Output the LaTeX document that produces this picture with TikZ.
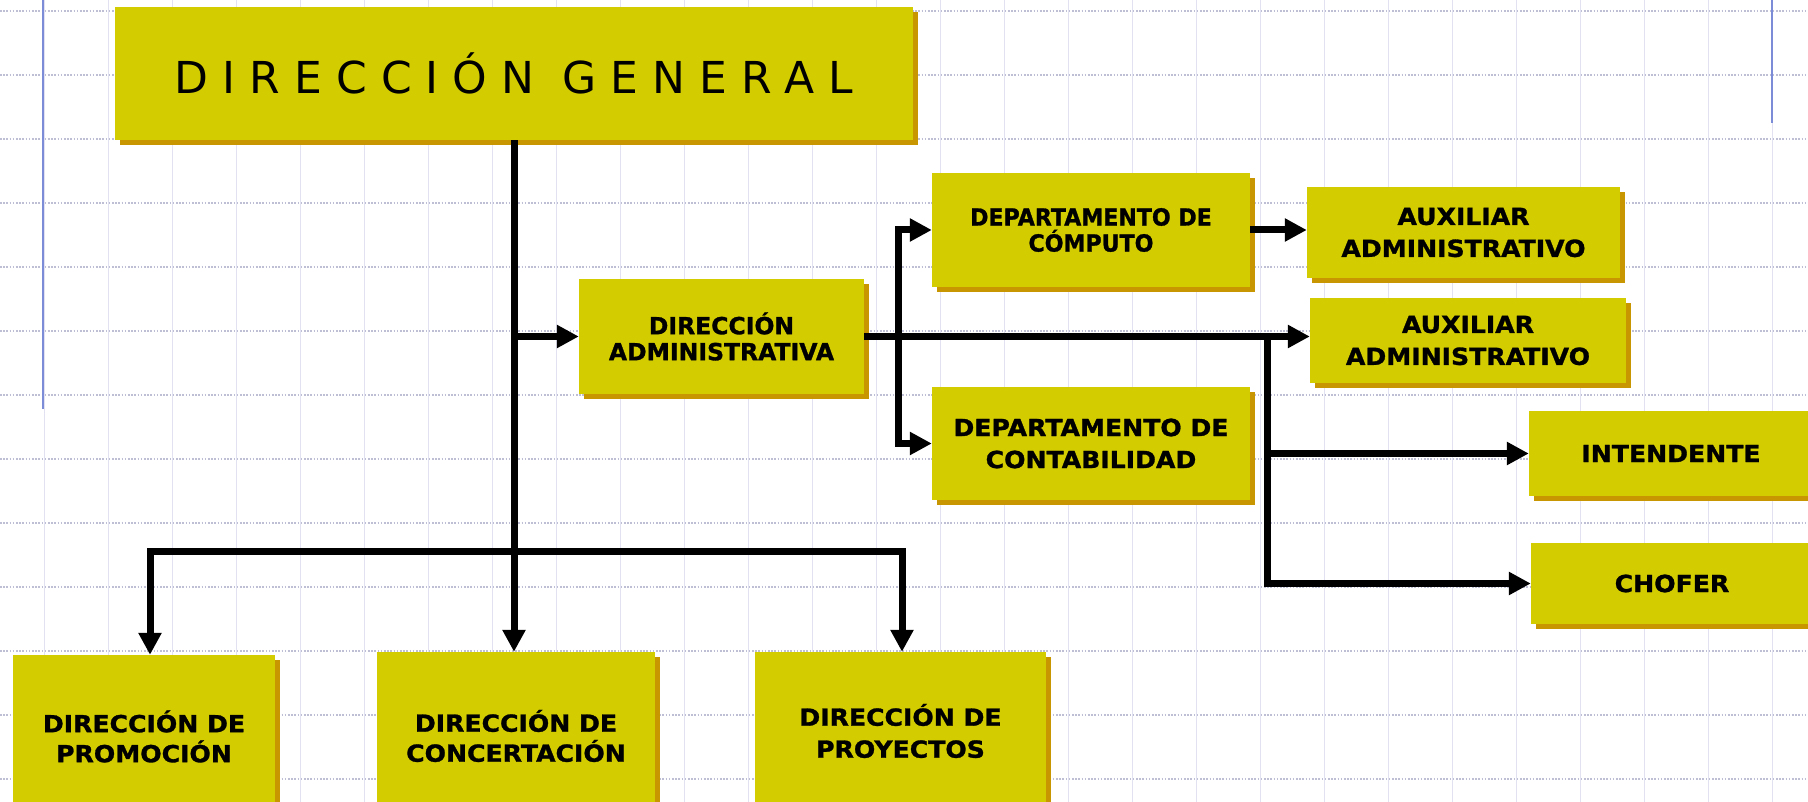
\documentclass[tikz,border=0pt]{standalone}
\usepackage{fontspec}
\usetikzlibrary{arrows.meta,shadows}
\newfontfamily\dgfont[LetterSpace=32]{DejaVu Sans}
\newfontfamily\lblfont[FakeStretch=1.07,FakeBold=1.2]{DejaVu Sans Bold}
\newfontfamily\lblfontc[FakeStretch=0.94,FakeBold=1.2]{DejaVu Sans Bold}
\newfontfamily\lblfontd[FakeBold=1.2]{DejaVu Sans Bold}
\definecolor{boxy}{RGB}{211,204,0}
\definecolor{shadowy}{RGB}{200,150,0}
\definecolor{hgridc}{RGB}{190,190,212}
\definecolor{vgridc}{RGB}{225,225,242}
\definecolor{bluel}{RGB}{125,140,215}
\begin{document}
\begin{tikzpicture}[x=1pt,y=-1pt,
  box/.style={rectangle, fill=boxy, inner sep=0pt, align=center,
    drop shadow={shadow xshift=5pt, shadow yshift=-5pt, fill=shadowy, opacity=1}},
  lbl/.style={font={\lblfont\fontsize{23.5}{#1}\selectfont}},
  lblc/.style={font={\lblfontc\fontsize{23.5}{#1}\selectfont}},
  lbld/.style={font={\lblfontd\fontsize{23.5}{#1}\selectfont}},
  conn/.style={line width=7pt, -{Triangle[length=22pt,width=22pt]}},
  conntwo/.style={line width=7pt, {Triangle[length=22pt,width=22pt]}-{Triangle[length=22pt,width=22pt]}},
  hgrid/.style={draw=hgridc, line width=1.4pt, dash pattern=on 1.6pt off 1.6pt},
  vgrid/.style={draw=vgridc, line width=1pt},
  blueline/.style={draw=bluel, line width=2pt}]
\useasboundingbox (0,0) rectangle (1808,802);
\clip (0,0) rectangle (1808,802);
\fill[white] (0,0) rectangle (1808,802);
% background grid
\foreach \x in {44,108,...,1772} \draw[vgrid] (\x,0) -- (\x,802);
\foreach \y in {11,75,...,779} \draw[hgrid] (0,\y) -- (1808,\y);
\draw[blueline] (43,0) -- (43,409);
\draw[blueline] (1772,0) -- (1772,123);
% boxes
\node[box, minimum width=798pt, minimum height=133pt,
  font={\dgfont\fontsize{44}{50}\selectfont}] (dg) at (514,73.5)
  {\raisebox{-4pt}{DIRECCIÓN GENERAL}};
\node[box, lbld=26, minimum width=285pt, minimum height=115pt] (da) at (721.5,336.5)
  {DIRECCIÓN\\ADMINISTRATIVA};
\node[box, lblc=26, minimum width=318pt, minimum height=114pt] (dc) at (1091,230)
  {DEPARTAMENTO DE\\CÓMPUTO};
\node[box, lbl=32, minimum width=313pt, minimum height=91pt] (aux1) at (1463.5,232.5)
  {AUXILIAR\\ADMINISTRATIVO};
\node[box, lbl=32, minimum width=316pt, minimum height=85pt] (aux2) at (1468,340.5)
  {AUXILIAR\\ADMINISTRATIVO};
\node[box, lbl=32, minimum width=318pt, minimum height=113pt] (dcont) at (1091,443.5)
  {DEPARTAMENTO DE\\CONTABILIDAD};
\node[box, lbl=32, minimum width=284pt, minimum height=85pt] (int) at (1671,453.5)
  {INTENDENTE};
\node[box, lbl=32, minimum width=282pt, minimum height=81pt] (chof) at (1672,583.5)
  {CHOFER};
\node[box, lbl=30, minimum width=262pt, minimum height=163pt] (prom) at (144,736.5)
  {DIRECCIÓN DE\\PROMOCIÓN};
\node[box, lbl=30, minimum width=278pt, minimum height=168pt] (conc) at (516,736)
  {DIRECCIÓN DE\\CONCERTACIÓN};
\node[box, lbl=32, minimum width=291pt, minimum height=158pt] (proy) at (900.5,731)
  {DIRECCIÓN DE\\PROYECTOS};
% connectors
\coordinate (v1) at (898,0);
\coordinate (v2) at (1267,0);
\coordinate (pa) at (150,551);
\coordinate (pb) at (902,551);
\draw[conn] (dg.south) -- (dg.south |- conc.north);
\draw[conntwo] (pa |- prom.north) -- (pa) -- (pb) -- (pb |- proy.north);
\draw[conn] (dg.south |- da.west) -- (da.west);
\draw[conn] (da.east) -- (da.east -| aux2.west);
\draw[conntwo] (dc.west) -- (v1 |- dc.west) -- (v1 |- dcont.west) -- (dcont.west);
\draw[conn] (dc.east) -- (dc.east -| aux1.west);
\draw[conn] (v2 |- da.east) -- (v2 |- chof.west) -- (chof.west);
\draw[conn] (v2 |- int.west) -- (int.west);
\end{tikzpicture}
\end{document}
